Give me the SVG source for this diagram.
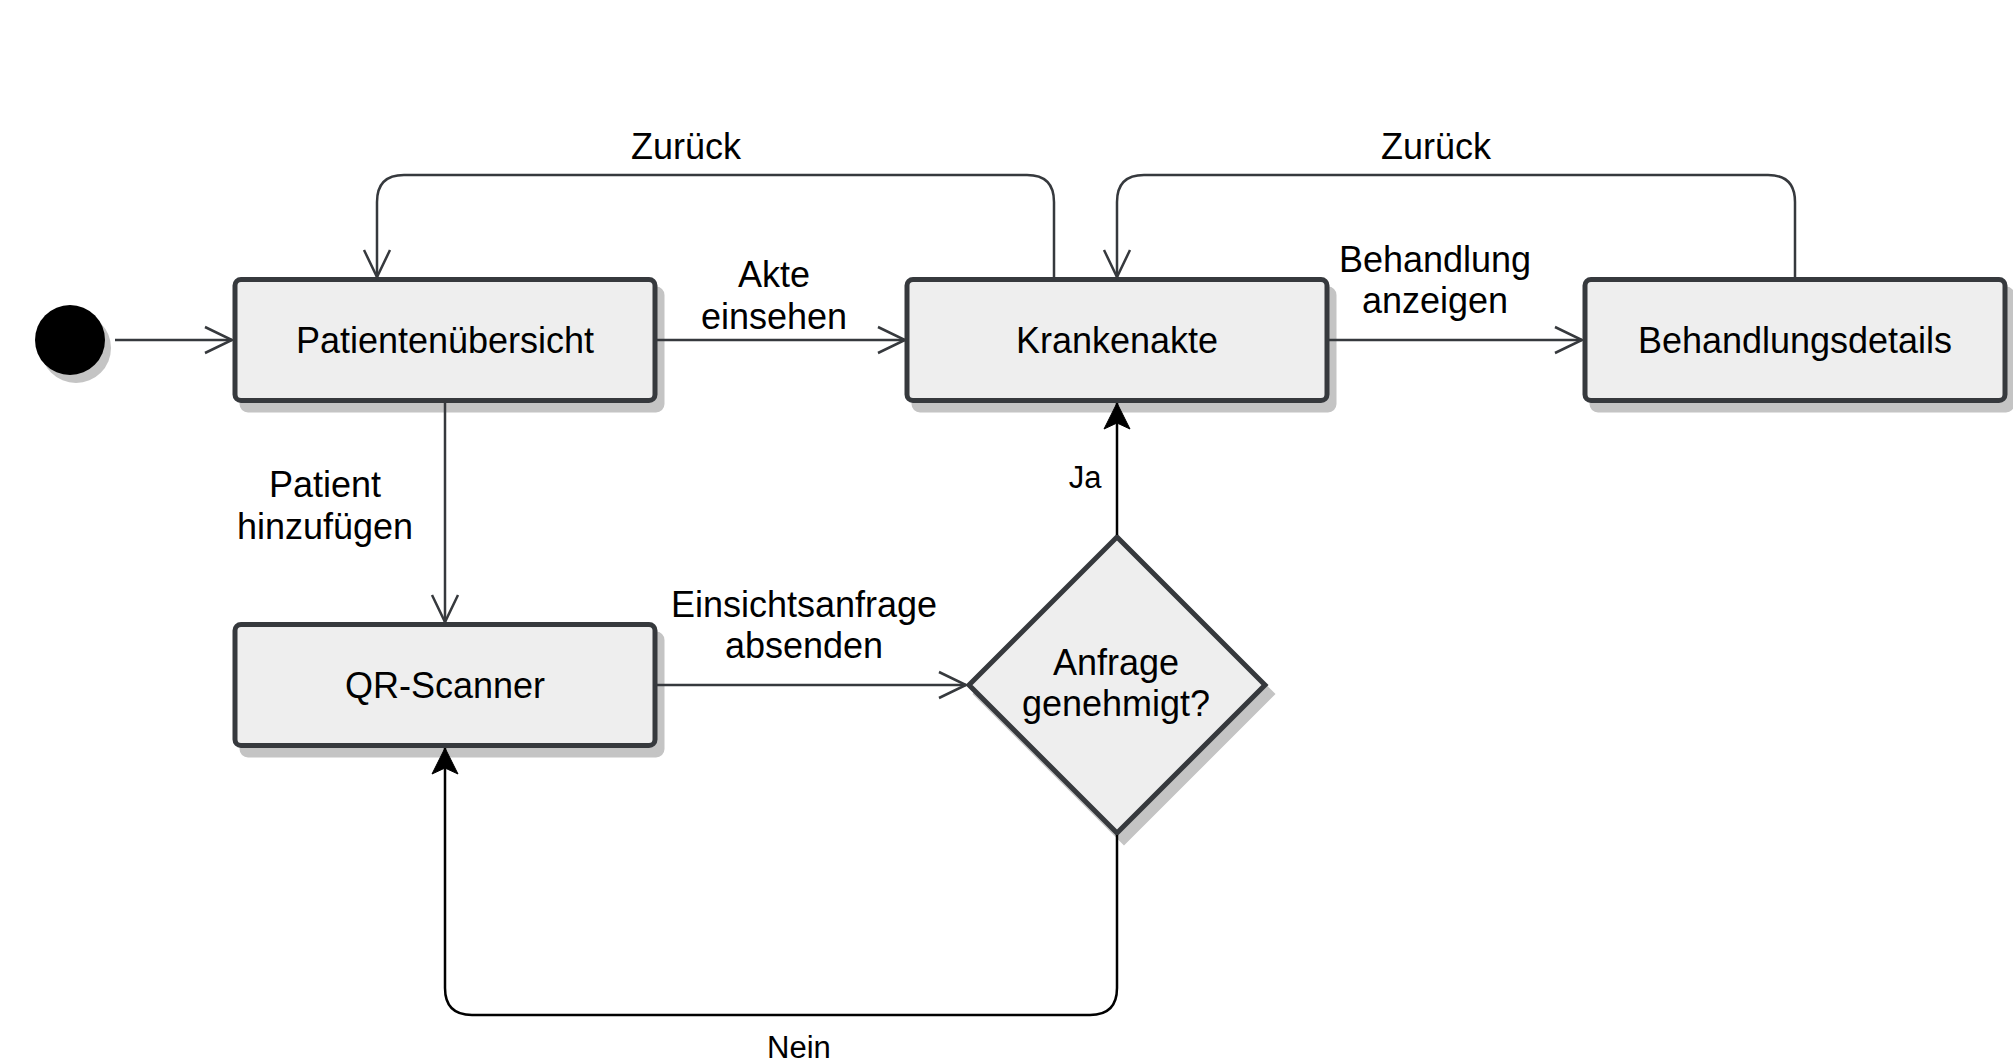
<svg xmlns="http://www.w3.org/2000/svg" width="2013" height="1062" viewBox="0 0 2013 1062">
<style>
.box{fill:#eeeeee;stroke:#36393d;stroke-width:5}
.shadow{fill:#c4c4c4;stroke:#c4c4c4;stroke-width:5}
.t{font-family:"Liberation Sans",Arial,sans-serif;font-size:36px;fill:#000;text-anchor:middle}
.s{font-family:"Liberation Sans",Arial,sans-serif;font-size:31px;fill:#000;text-anchor:middle}
.e{fill:none;stroke:#36393d;stroke-width:2.5}
.k{fill:none;stroke:#000;stroke-width:2.5}
</style>
<defs>
<marker id="open" markerUnits="userSpaceOnUse" markerWidth="32" markerHeight="32" refX="29" refY="16" orient="auto" overflow="visible">
<path d="M2,3 L29,16 L2,29" fill="none" stroke="#36393d" stroke-width="2.5"/>
</marker>
<marker id="fill" markerUnits="userSpaceOnUse" markerWidth="30" markerHeight="30" refX="27" refY="14" orient="auto" overflow="visible">
<path d="M27,14 L1,1 L7,14 L1,27 Z" fill="#000" stroke="#000" stroke-width="1"/>
</marker>
</defs>
<rect width="2013" height="1062" fill="#ffffff"/>

<g id="start">
<circle cx="76" cy="348" r="35" fill="#c4c4c4"/>
<circle cx="70" cy="340" r="35" fill="#000"/>
</g>

<g id="patientenuebersicht">
<rect class="shadow" x="242" y="289" width="420" height="121" rx="6"/>
<rect class="box" x="235" y="279.5" width="420" height="121" rx="6"/>
<text class="t" x="445" y="353">Patientenübersicht</text>
</g>

<g id="krankenakte">
<rect class="shadow" x="914" y="289" width="420" height="121" rx="6"/>
<rect class="box" x="907" y="279.5" width="420" height="121" rx="6"/>
<text class="t" x="1117" y="353">Krankenakte</text>
</g>

<g id="behandlungsdetails">
<rect class="shadow" x="1592" y="289" width="420" height="121" rx="6"/>
<rect class="box" x="1585" y="279.5" width="420" height="121" rx="6"/>
<text class="t" x="1795" y="353">Behandlungsdetails</text>
</g>

<g id="qrscanner">
<rect class="shadow" x="242" y="634" width="420" height="121" rx="6"/>
<rect class="box" x="235" y="624.5" width="420" height="121" rx="6"/>
<text class="t" x="445" y="698">QR-Scanner</text>
</g>

<g id="anfrage">
<polygon class="shadow" points="1124,546 1272,694 1124,842 976,694"/>
<polygon class="box" points="1117,537 1265,685 1117,833 969,685"/>
<text class="t" x="1116" y="675">Anfrage</text>
<text class="t" x="1116" y="716">genehmigt?</text>
</g>

<g id="connectors">
<path class="e" d="M115,340 L232,340" marker-end="url(#open)"/>
<path class="e" d="M657,340 L905,340" marker-end="url(#open)"/>
<path class="e" d="M1329,340 L1582,340" marker-end="url(#open)"/>
<path class="e" d="M445,403 L445,622" marker-end="url(#open)"/>
<path class="e" d="M657,685 L966,685" marker-end="url(#open)"/>
<path class="e" d="M1054,277 L1054,202 Q1054,175 1027,175 L404,175 Q377,175 377,202 L377,277" marker-end="url(#open)"/>
<path class="e" d="M1795,277 L1795,202 Q1795,175 1768,175 L1144,175 Q1117,175 1117,202 L1117,277" marker-end="url(#open)"/>
<path class="k" d="M1117,535 L1117,403" marker-end="url(#fill)"/>
<path class="k" d="M1117,835 L1117,988 Q1117,1015 1090,1015 L472,1015 Q445,1015 445,988 L445,748" marker-end="url(#fill)"/>
<text class="t" x="686" y="159">Zurück</text>
<text class="t" x="1436" y="159">Zurück</text>
<text class="t" x="774" y="287">Akte</text>
<text class="t" x="774" y="329">einsehen</text>
<text class="t" x="1435" y="272">Behandlung</text>
<text class="t" x="1435" y="313">anzeigen</text>
<text class="t" x="325" y="497">Patient</text>
<text class="t" x="325" y="539">hinzufügen</text>
<text class="t" x="804" y="617">Einsichtsanfrage</text>
<text class="t" x="804" y="658">absenden</text>
<text class="s" x="1085" y="488">Ja</text>
<text class="s" x="799" y="1058">Nein</text>
</g>
</svg>
